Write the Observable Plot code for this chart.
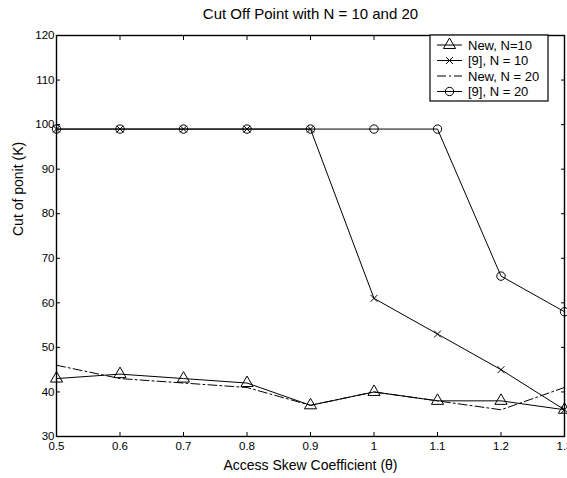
<!DOCTYPE html>
<html><head><meta charset="utf-8">
<script src="https://cdn.jsdelivr.net/npm/d3@7"></script>
<script src="https://cdn.jsdelivr.net/npm/@observablehq/plot@0.6"></script>
<style>
body{margin:0;background:#fff;overflow:hidden}
#chart{position:relative;width:567px;height:478px;overflow:hidden}
</style>
</head><body><div id="chart"></div>
<script>
const theta = [0.5, 0.6, 0.7, 0.8, 0.9, 1.0, 1.1, 1.2, 1.3];
const newN10 = [43, 44, 43, 42, 37, 40, 38, 38, 36];
const ref9N10 = [99, 99, 99, 99, 99, 61, 53, 45, 36];
const newN20 = [46, 43, 42, 41, 37, 40, 38, 36, 41];
const ref9N20 = [99, 99, 99, 99, 99, 99, 99, 66, 58];
const seriesNames = ["New, N=10", "[9], N = 10", "New, N = 20", "[9], N = 20"];
const xTicks = [0.5, 0.6, 0.7, 0.8, 0.9, 1.0, 1.1, 1.2, 1.3];
const xTickLabels = ["0.5", "0.6", "0.7", "0.8", "0.9", "1", "1.1", "1.2", "1.3"];
const yTicks = [30, 40, 50, 60, 70, 80, 90, 100, 110, 120];
const title = "Cut Off Point with N = 10 and 20";
const xLabel = "Access Skew Coefficient (\u03b8)";
const yLabel = "Cut of ponit (K)";

const allSeries = [newN10, ref9N10, newN20, ref9N20];
const rows = allSeries.map((vals, s) => theta.map((t, i) => ({theta: t, value: vals[i], series: seriesNames[s]})));
const symbols = ["triangle", "times", null, "circle"];
const radii = [4.5, 3.2, 0, 4.2];
const dashes = [null, null, "9,3,2,3", null];

const font = "'Liberation Sans', Arial, Helvetica, sans-serif";
const marks = [];
rows.forEach((r, s) => {
  marks.push(Plot.line(r, {x: "theta", y: "value", stroke: "black", strokeWidth: 1, strokeDasharray: dashes[s]}));
  if (symbols[s]) marks.push(Plot.dot(r, {x: "theta", y: "value", symbol: symbols[s], r: radii[s], stroke: "black", strokeWidth: 1, fill: "none"}));
});

const chart = Plot.plot({
  width: 567, height: 478,
  marginLeft: 56, marginRight: 3, marginTop: 35, marginBottom: 42,
  style: {fontFamily: font, fontSize: "11px", color: "black", background: "white", overflow: "visible"},
  x: {domain: [0.5, 1.3]},
  y: {domain: [30, 120]},
  marks: [
    Plot.axisX(xTicks, {anchor: "bottom", tickSize: 0, tickPadding: 5, tickFormat: (d) => xTickLabels[xTicks.indexOf(d)], label: null, fontSize: 11.5}),
    Plot.axisX(xTicks, {anchor: "bottom", tickSize: -4, tickFormat: () => "", label: null}),
    Plot.axisX(xTicks, {anchor: "top", tickSize: -4, tickFormat: () => "", label: null}),
    Plot.axisY(yTicks, {anchor: "left", tickSize: 0, tickPadding: 2, label: null, fontSize: 11.5}),
    Plot.axisY(yTicks, {anchor: "left", tickSize: -4, tickFormat: () => "", label: null}),
    Plot.axisY(yTicks, {anchor: "right", tickSize: -4, tickFormat: () => "", label: null}),
    ...marks,
    Plot.frame({stroke: "black", strokeWidth: 1.4}),
    Plot.text([title], {text: d => d, frameAnchor: "top", lineAnchor: "middle", dy: -21, fontSize: 15}),
    Plot.text([xLabel], {text: d => d, frameAnchor: "bottom", lineAnchor: "middle", dy: 29, fontSize: 14}),
    Plot.text([yLabel], {text: d => d, frameAnchor: "left", dx: -38, rotate: -90, fontSize: 14})
  ]
});
document.getElementById("chart").appendChild(chart);

// Legend (inside plot, top-right)
const svg = d3.select(chart);
const lg = svg.append("g").attr("font-family", font).attr("font-size", 13).attr("text-anchor", "start");
const bx = 430, by = 35, bw = 118, bh = 66;
lg.append("rect").attr("x", bx).attr("y", by).attr("width", bw).attr("height", bh)
  .attr("fill", "white").attr("stroke", "black").attr("stroke-width", 1.2);
seriesNames.forEach((name, s) => {
  const cy = by + 10 + s * 15.5;
  lg.append("line").attr("x1", bx + 7).attr("x2", bx + 32).attr("y1", cy).attr("y2", cy)
    .attr("stroke", "black").attr("stroke-width", 1).attr("stroke-dasharray", dashes[s]);
  if (symbols[s]) {
    const sym = {triangle: d3.symbolTriangle, times: d3.symbolTimes, circle: d3.symbolCircle}[symbols[s]];
    const area = Math.PI * radii[s] * radii[s];
    lg.append("path").attr("d", d3.symbol(sym, area)()).attr("transform", `translate(${bx + 19.5},${cy})`)
      .attr("fill", "none").attr("stroke", "black").attr("stroke-width", 1);
  }
  lg.append("text").attr("x", bx + 38).attr("y", cy).attr("dy", "0.35em").attr("text-anchor", "start").text(name);
});
</script>
</body></html>
